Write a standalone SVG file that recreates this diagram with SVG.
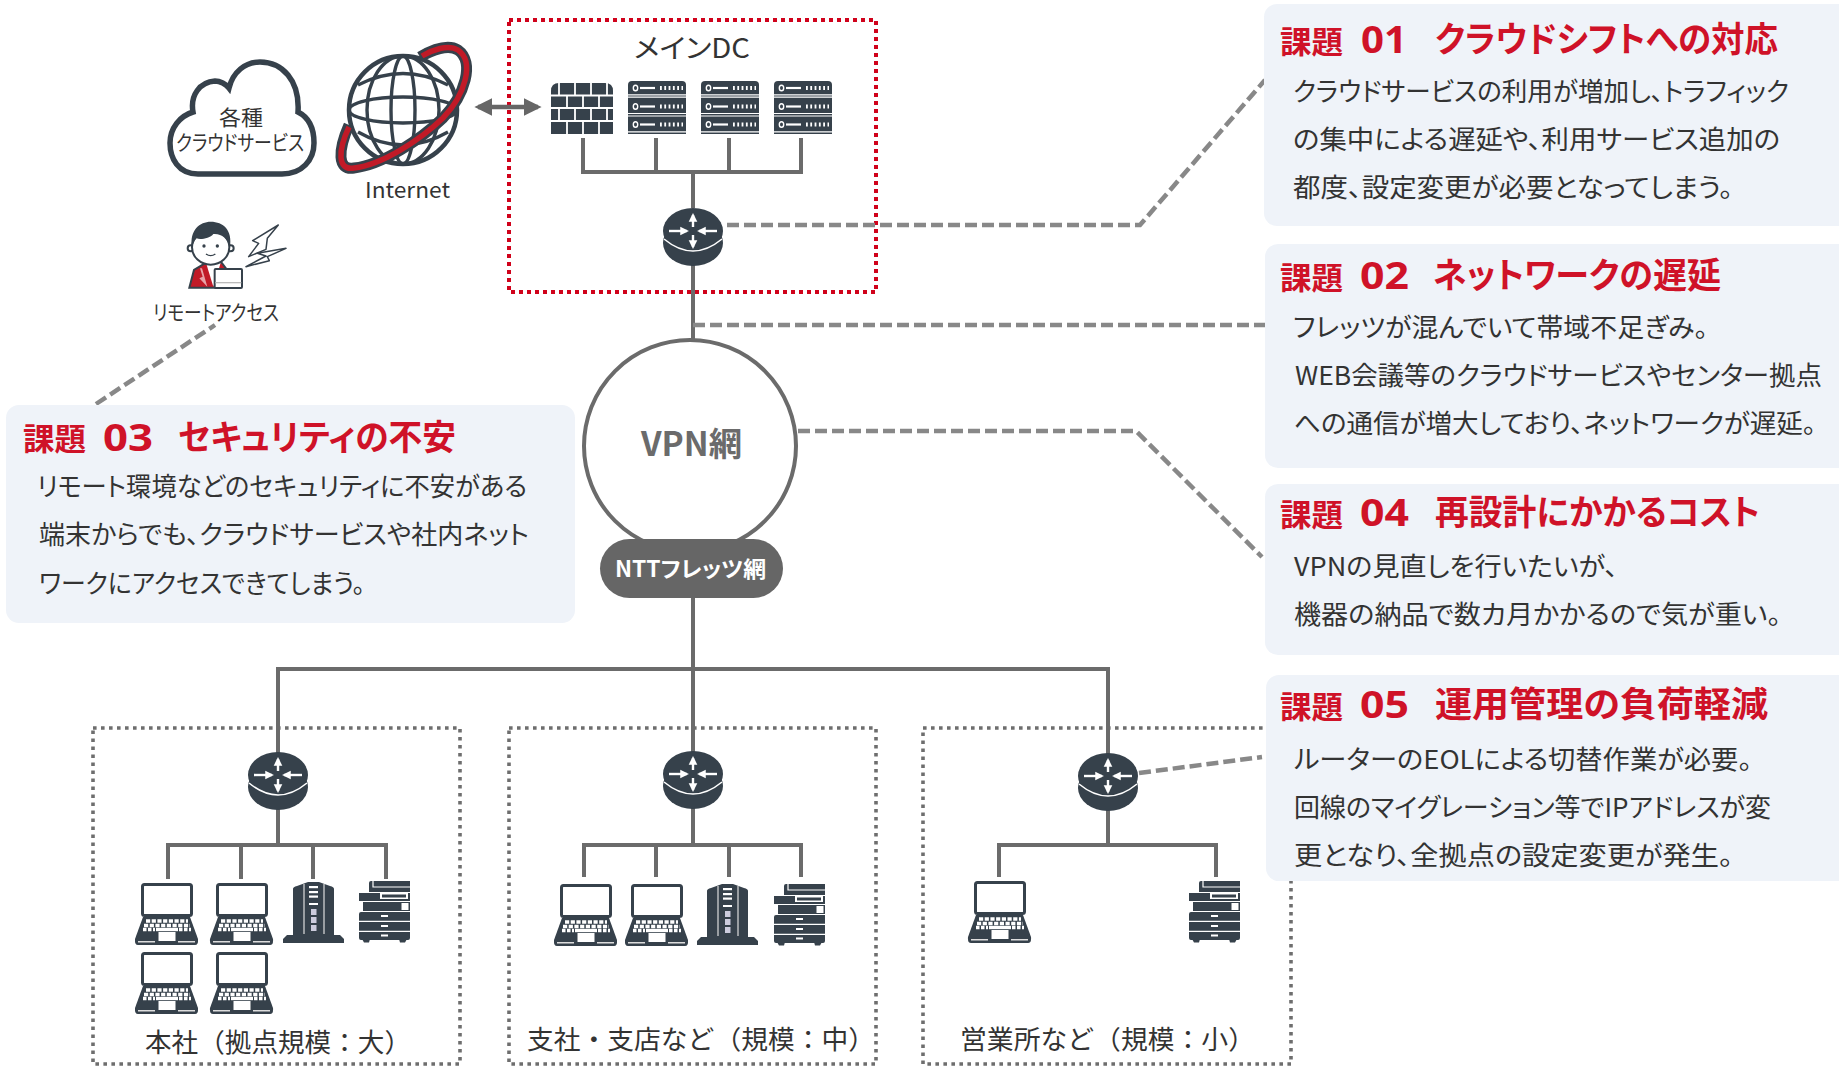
<svg xmlns="http://www.w3.org/2000/svg" width="1839" height="1066" viewBox="0 0 1839 1066">
<style>
text{font-family:"Noto Sans CJK JP","Noto Sans",sans-serif;fill:#333;font-feature-settings:"palt"}
.cl{font-family:"Liberation Sans","Noto Sans CJK JP",sans-serif;font-size:21px}
.panel{fill:#eff3f9}
.t1{font-size:31px;font-weight:700;fill:#cf1228}
.t2{font-size:38px;font-weight:700;fill:#cf1228;font-family:"Noto Sans","Noto Sans CJK JP",sans-serif}
.t3{font-size:35px;font-weight:700;fill:#cf1228}
.b{font-size:26px}
.lab{font-size:26px;font-feature-settings:normal}
.line{fill:none;stroke:#6b6b6b;stroke-width:4}
.dash{fill:none;stroke:#888;stroke-width:4.5;stroke-dasharray:12 5}
.dot{fill:none;stroke:#6e6e6e;stroke-width:3.6;stroke-dasharray:3.6 4.4}
.dk{fill:#36414b}
.wl{stroke:#fff;fill:none}
</style>
<defs>
<marker id="ah" viewBox="0 0 10 10" refX="7" refY="5" markerWidth="4" markerHeight="4" orient="auto"><path d="M0 0.5 L9 5 L0 9.500Z" fill="#fff"/></marker>
<marker id="dbl" viewBox="0 0 10 10" refX="8" refY="5" markerWidth="4" markerHeight="4.400" orient="auto-start-reverse"><path d="M0 0 L10 5 L0 10Z" fill="#666"/></marker>
<symbol id="router" overflow="visible">
<ellipse cx="0" cy="12" rx="30" ry="23" class="dk"/>
<ellipse cx="0" cy="0" rx="30" ry="23" class="dk"/>
<path d="M-29 8 Q0 32 29 8" class="wl" stroke-width="1.600"/>
<g class="wl" stroke-width="2.400">
<path d="M0 -4 V-16" marker-end="url(#ah)"/><path d="M0 4 V16" marker-end="url(#ah)"/>
<path d="M-24 0 H-6" marker-end="url(#ah)"/><path d="M24 0 H6" marker-end="url(#ah)"/>
</g>
</symbol>
<symbol id="laptop" overflow="visible">
<rect x="7.500" y="1.500" width="49" height="31" rx="2" fill="#fff" stroke="#36414b" stroke-width="3"/>
<path d="M8 34 H55 L63 56 Q63.500 62 60 62 H3 Q-.5 62 0 56Z" class="dk"/>
<g stroke="#fff" stroke-width="3.400" fill="none">
<path d="M11 38 H53" stroke-dasharray="4.200 1.500"/>
<path d="M9 42.500 H55" stroke-dasharray="4.200 1.500"/>
<path d="M8 46.500 H20 M44 46.500 H56" stroke-dasharray="3.500 1.500"/>
<path d="M21 46.500 H43"/>
</g>
<rect x="23.500" y="49" width="17" height="9" fill="#fff"/>
<path d="M3 58.800 H20 M43 58.800 H60" stroke="#ddd" stroke-width="1.500"/>
</symbol>
<symbol id="tower" overflow="visible">
<path d="M10 7 Q10 5 14 4 L25 0 H36 L47 4 Q51 5 51 7 V53 H57 L61 57 V61 H0 V57 L4 53 H10Z" class="dk"/>
<path d="M21 2 V52 M41 2 V52" stroke="#ddd" stroke-width="1.200"/>
<g fill="#fff"><rect x="26" y="4" width="9" height="2.200"/><rect x="26" y="9" width="9" height="2.200"/><rect x="26" y="13.500" width="9" height="2.200"/><rect x="26" y="21" width="9" height="2"/></g>
<g fill="#ccd"><rect x="28" y="27" width="5.500" height="6"/><rect x="28" y="35" width="5.500" height="6"/><rect x="28" y="43" width="5.500" height="6"/></g>
</symbol>
<symbol id="printer" overflow="visible">
<path d="M10 2 Q10 0 12 0 H51 V11 H10Z" class="dk"/><path d="M14 0 V6 H51" class="wl" stroke-width="1.200"/>
<path d="M0 12 H51 V20 H0Z M4 21 H51 V30 H4Z" class="dk"/>
<rect x="21" y="12" width="28" height="6" fill="#fff"/><rect x="23" y="13.500" width="24" height="3" class="dk"/>
<rect x="42.500" y="22" width="7" height="7" fill="#fff"/>
<path d="M0 33 Q0 31 2 31 H51 V39.800 H0Z M0 41 H51 V49.800 H0Z M0 51 H51 V57 Q51 59 49 59 H2 Q0 59 0 57Z" class="dk"/>
<path d="M3 58 H11 L10 61.500 H5Z M40 58 H48 L46 61.500 H41Z" class="dk"/>
<g fill="#fff"><rect x="22" y="34" width="7" height="2"/><rect x="22" y="44" width="7" height="2"/><rect x="22" y="53.500" width="7" height="2"/></g>
</symbol>
<symbol id="firewall" overflow="visible">
<path d="M0 8 Q0 0 8 0 H54 Q62 0 62 8 V51 H0Z" class="dk"/>
<g class="wl" stroke-width="1.800">
<path d="M0 12.500 H62 M0 25 H62 M0 38 H62"/>
<path d="M8 0 V12.500 M24 0 V12.500 M40 0 V12.500 M56 0 V12.500 M16 12.500 V25 M32 12.500 V25 M48 12.500 V25 M8 25 V38 M24 25 V38 M40 25 V38 M56 25 V38 M16 38 V51 M32 38 V51 M48 38 V51"/>
</g>
</symbol>
<symbol id="srv" overflow="visible">
<path d="M0 4 Q0 0 4 0 H54 Q58 0 58 4 V53 H0Z" class="dk"/>
<g class="wl" stroke-width="1.200"><path d="M0 13.800 H58 M0 16.200 H58 M0 32.500 H58 M0 35 H58 M0 50.800 H58"/></g>
<ellipse cx="7.500" cy="7" rx="2.200" ry="2.800" class="wl" stroke-width="1.400"/><path d="M12 7 H27" class="wl" stroke-width="2.200"/><path d="M32 7 H55" class="wl" stroke-width="4" stroke-dasharray="1.800 2.500"/>
<g transform="translate(0,18.500)"><ellipse cx="7.500" cy="7" rx="2.200" ry="2.800" class="wl" stroke-width="1.400"/><path d="M12 7 H27" class="wl" stroke-width="2.200"/><path d="M32 7 H55" class="wl" stroke-width="4" stroke-dasharray="1.800 2.500"/></g>
<g transform="translate(0,36.500)"><ellipse cx="7.500" cy="7" rx="2.200" ry="2.800" class="wl" stroke-width="1.400"/><path d="M12 7 H27" class="wl" stroke-width="2.200"/><path d="M32 7 H55" class="wl" stroke-width="4" stroke-dasharray="1.800 2.500"/></g>
</symbol>
</defs>

<g id="boxes">
<rect id="box-dc" x="509" y="20" width="367" height="272" fill="none" stroke="#d0021b" stroke-width="4" stroke-dasharray="4 4"/>
<rect id="box-hq" x="93" y="728" width="367" height="336" class="dot"/>
<rect id="box-branch" x="509" y="728" width="367" height="336" class="dot"/>
<rect id="box-sales" x="923" y="728" width="368" height="336" class="dot"/>
</g>

<g id="connectors">
<path class="line" d="M693 172 V208 M583 138 V172 H801 V138 M656 138 V172 M729 138 V172"/>
<path class="line" d="M693 260 V340 M693 598 V755 M278 755 V669 H1108 V755"/>
<path class="line" d="M278 805 V845 M168 879 V845 H386 V879 M241 845 V879 M313 845 V879"/>
<path class="line" d="M693 805 V845 M584 877 V845 H801 V877 M656 845 V877 M729 845 V877"/>
<path class="line" d="M1108 805 V845 M999 877 V845 H1216 V877"/>
<path d="M478 107 H538" stroke="#666" stroke-width="4.500" fill="none" marker-start="url(#dbl)" marker-end="url(#dbl)"/>
<path class="dash" d="M727 225 H1140 L1265 80"/>
<path class="dash" d="M693 325 H1265"/>
<path class="dash" d="M798 431 H1136 L1262 557"/>
<path class="dash" d="M96 404 L215 325"/>
<path class="dash" d="M1139 773 L1262 757"/>
</g>

<g id="node-cloud">
<path d="M198 174 C178 174 170 158 170 143 C170 128 180 116 193 112 C190 95 200 82 215 81 C220 81 226 84 229 88 C233 72 245 62 260 62 C282 62 300 80 298 112 C310 118 314 130 314 143 C314 160 302 174 282 174Z" fill="#fff" stroke="#36414b" stroke-width="5.500"/>
<text class="cl" x="219" y="125" textLength="44" lengthAdjust="spacingAndGlyphs">各種</text>
<text class="cl" x="176" y="150" textLength="128" lengthAdjust="spacingAndGlyphs">クラウドサービス</text>
</g>

<g id="node-internet">
<g fill="none" stroke="#36414b" stroke-width="3.400">
<circle cx="403" cy="110" r="54" fill="#fff" stroke-width="4.500"/>
<ellipse cx="403" cy="110" rx="36" ry="54"/>
<ellipse cx="403" cy="110" rx="12" ry="54"/>
<ellipse cx="403" cy="110" rx="54" ry="13"/>
<path d="M358 85 Q403 62 448 85 M358 132 Q403 158 448 132"/>
</g>
<path d="M349 125 C338 150 337 171 354 168 C382 165 420 140 443 118 C465 95 475 62 458 50 C448 44 432 50 420 57" fill="none" stroke="#36414b" stroke-width="11"/>
<path d="M349 127 C338 150 337 171 354 168 C382 165 420 140 443 118 C465 95 475 62 458 50 C448 44 432 50 422 56" fill="none" stroke="#c11a27" stroke-width="5.500"/>
<text x="365" y="198" font-size="22" textLength="85" lengthAdjust="spacingAndGlyphs">Internet</text>
</g>

<g id="node-remote">
<g transform="translate(180,210) scale(.3333)">
<path d="M28 233 L42 180 L78 158 H125 L140 178 V233Z" fill="#c11a27" stroke="#36414b" stroke-width="6"/>
<path d="M78 158 L100 230 L122 158Z" fill="#fff"/>
<path d="M60 175 L68 200 L58 205 L82 230 L66 175Z" fill="#fff" opacity=".6"/>
<circle cx="32" cy="115" r="9" fill="#fff" stroke="#36414b" stroke-width="6"/>
<circle cx="152" cy="115" r="9" fill="#fff" stroke="#36414b" stroke-width="6"/>
<ellipse cx="92" cy="112" rx="56" ry="52" fill="#fff" stroke="#36414b" stroke-width="6"/>
<path d="M36 112 C28 60 60 35 92 35 C130 35 158 60 150 112 C142 85 125 70 100 72 C90 85 60 90 50 85 C42 92 40 102 36 112Z" class="dk"/>
<circle cx="72" cy="108" r="5" class="dk"/><circle cx="112" cy="108" r="5" class="dk"/>
<path d="M78 132 Q92 142 106 132" fill="none" stroke="#36414b" stroke-width="4"/>
<rect x="104" y="177" width="82" height="57" rx="3" fill="#fff" stroke="#36414b" stroke-width="6"/>
<path d="M106 218 H184" stroke="#bbb" stroke-width="4"/>
<path d="M295 45 L218 92 L236 100 L206 140 L258 118 L262 85Z" fill="#fff" stroke="#36414b" stroke-width="4.500" stroke-linejoin="round"/>
<path d="M318 115 L232 130 L258 138 L198 170 L268 152 L262 140Z" fill="#fff" stroke="#36414b" stroke-width="4.500" stroke-linejoin="round"/>
</g>
<text x="153" y="320" font-size="21" textLength="126" lengthAdjust="spacingAndGlyphs">リモートアクセス</text>
</g>

<g id="node-dc">
<text x="634" y="58" font-size="27" textLength="116" lengthAdjust="spacingAndGlyphs">メインDC</text>
<use href="#firewall" x="551" y="83"/>
<use href="#srv" x="628" y="81"/>
<use href="#srv" x="701" y="81"/>
<use href="#srv" x="774" y="81"/>
</g>
<g id="node-router-dc"><use href="#router" x="693" y="231"/></g>

<g id="node-vpn">
<circle cx="690" cy="446" r="106" fill="#fff" stroke="#6b6b6b" stroke-width="4"/>
<text x="641" y="456" font-size="33" font-weight="700" style="fill:#6b6b6b" textLength="101" lengthAdjust="spacingAndGlyphs">VPN網</text>
</g>
<g id="node-flets">
<rect x="600" y="539" width="183" height="59" rx="29.500" fill="#666"/>
<text x="615" y="577" font-size="22" font-weight="700" style="fill:#fff" textLength="151" lengthAdjust="spacingAndGlyphs">NTTフレッツ網</text>
</g>

<g id="node-hq">
<use href="#router" x="278" y="775"/>
<use href="#laptop" x="135" y="883"/><use href="#laptop" x="210" y="883"/>
<use href="#tower" x="283" y="882"/><use href="#printer" x="359" y="881"/>
<use href="#laptop" x="135" y="952"/><use href="#laptop" x="210" y="952"/>
<text class="lab" x="145" y="1052" textLength="266" lengthAdjust="spacingAndGlyphs">本社（拠点規模：大）</text>
</g>
<g id="node-branch">
<use href="#router" x="693" y="774"/>
<use href="#laptop" x="554" y="884"/><use href="#laptop" x="625" y="884"/>
<use href="#tower" x="697" y="884"/><use href="#printer" x="774" y="884"/>
<text class="lab" x="527" y="1049" textLength="348" lengthAdjust="spacingAndGlyphs">支社・支店など（規模：中）</text>
</g>
<g id="node-sales">
<use href="#router" x="1108" y="776"/>
<use href="#laptop" x="968" y="881"/>
<use href="#printer" x="1189" y="881"/>
<text class="lab" x="960" y="1049" textLength="295" lengthAdjust="spacingAndGlyphs">営業所など（規模：小）</text>
</g>

<g id="panel-01">
<rect class="panel" x="1264" y="4" width="590" height="222" rx="13"/>
<text class="t1" x="1280" y="53" textLength="63" lengthAdjust="spacingAndGlyphs">課題</text>
<text class="t2" x="1361" y="53" textLength="46" lengthAdjust="spacingAndGlyphs">01</text>
<text class="t3" x="1435" y="52" textLength="343" lengthAdjust="spacingAndGlyphs">クラウドシフトへの対応</text>
<text class="b" x="1293" y="101" textLength="496" lengthAdjust="spacingAndGlyphs">クラウドサービスの利用が増加し、トラフィック</text>
<text class="b" x="1293" y="149" textLength="487" lengthAdjust="spacingAndGlyphs">の集中による遅延や、利用サービス追加の</text>
<text class="b" x="1293" y="197" textLength="440" lengthAdjust="spacingAndGlyphs">都度、設定変更が必要となってしまう。</text>
</g>
<g id="panel-02">
<rect class="panel" x="1265" y="244" width="590" height="224" rx="13"/>
<text class="t1" x="1280" y="289" textLength="63" lengthAdjust="spacingAndGlyphs">課題</text>
<text class="t2" x="1360" y="289" textLength="49" lengthAdjust="spacingAndGlyphs">02</text>
<text class="t3" x="1433" y="288" textLength="288" lengthAdjust="spacingAndGlyphs">ネットワークの遅延</text>
<text class="b" x="1293" y="337" textLength="415" lengthAdjust="spacingAndGlyphs">フレッツが混んでいて帯域不足ぎみ。</text>
<text class="b" x="1295" y="385" textLength="527" lengthAdjust="spacingAndGlyphs">WEB会議等のクラウドサービスやセンター拠点</text>
<text class="b" x="1294" y="433" textLength="522" lengthAdjust="spacingAndGlyphs">への通信が増大しており、ネットワークが遅延。</text>
</g>
<g id="panel-03">
<rect class="panel" x="6" y="405" width="569" height="218" rx="13"/>
<text class="t1" x="23" y="450" textLength="63" lengthAdjust="spacingAndGlyphs">課題</text>
<text class="t2" x="103" y="451" textLength="50" lengthAdjust="spacingAndGlyphs">03</text>
<text class="t3" x="178" y="450" textLength="278" lengthAdjust="spacingAndGlyphs">セキュリティの不安</text>
<text class="b" x="37" y="496" textLength="490" lengthAdjust="spacingAndGlyphs">リモート環境などのセキュリティに不安がある</text>
<text class="b" x="39" y="544" textLength="490" lengthAdjust="spacingAndGlyphs">端末からでも、クラウドサービスや社内ネット</text>
<text class="b" x="39" y="593" textLength="326" lengthAdjust="spacingAndGlyphs">ワークにアクセスできてしまう。</text>
</g>
<g id="panel-04">
<rect class="panel" x="1265" y="484" width="590" height="171" rx="13"/>
<text class="t1" x="1280" y="526" textLength="63" lengthAdjust="spacingAndGlyphs">課題</text>
<text class="t2" x="1360" y="526" textLength="49" lengthAdjust="spacingAndGlyphs">04</text>
<text class="t3" x="1435" y="525" textLength="325" lengthAdjust="spacingAndGlyphs">再設計にかかるコスト</text>
<text class="b" x="1294" y="576" textLength="324" lengthAdjust="spacingAndGlyphs">VPNの見直しを行いたいが、</text>
<text class="b" x="1294" y="624" textLength="487" lengthAdjust="spacingAndGlyphs">機器の納品で数カ月かかるので気が重い。</text>
</g>
<g id="panel-05">
<rect class="panel" x="1266" y="675" width="590" height="206" rx="13"/>
<text class="t1" x="1280" y="718" textLength="63" lengthAdjust="spacingAndGlyphs">課題</text>
<text class="t2" x="1360" y="718" textLength="49" lengthAdjust="spacingAndGlyphs">05</text>
<text class="t3" x="1435" y="717" textLength="333" lengthAdjust="spacingAndGlyphs">運用管理の負荷軽減</text>
<text class="b" x="1294" y="769" textLength="458" lengthAdjust="spacingAndGlyphs">ルーターのEOLによる切替作業が必要。</text>
<text class="b" x="1294" y="817" textLength="477" lengthAdjust="spacingAndGlyphs">回線のマイグレーション等でIPアドレスが変</text>
<text class="b" x="1294" y="865" textLength="439" lengthAdjust="spacingAndGlyphs">更となり、全拠点の設定変更が発生。</text>
</g>
</svg>
